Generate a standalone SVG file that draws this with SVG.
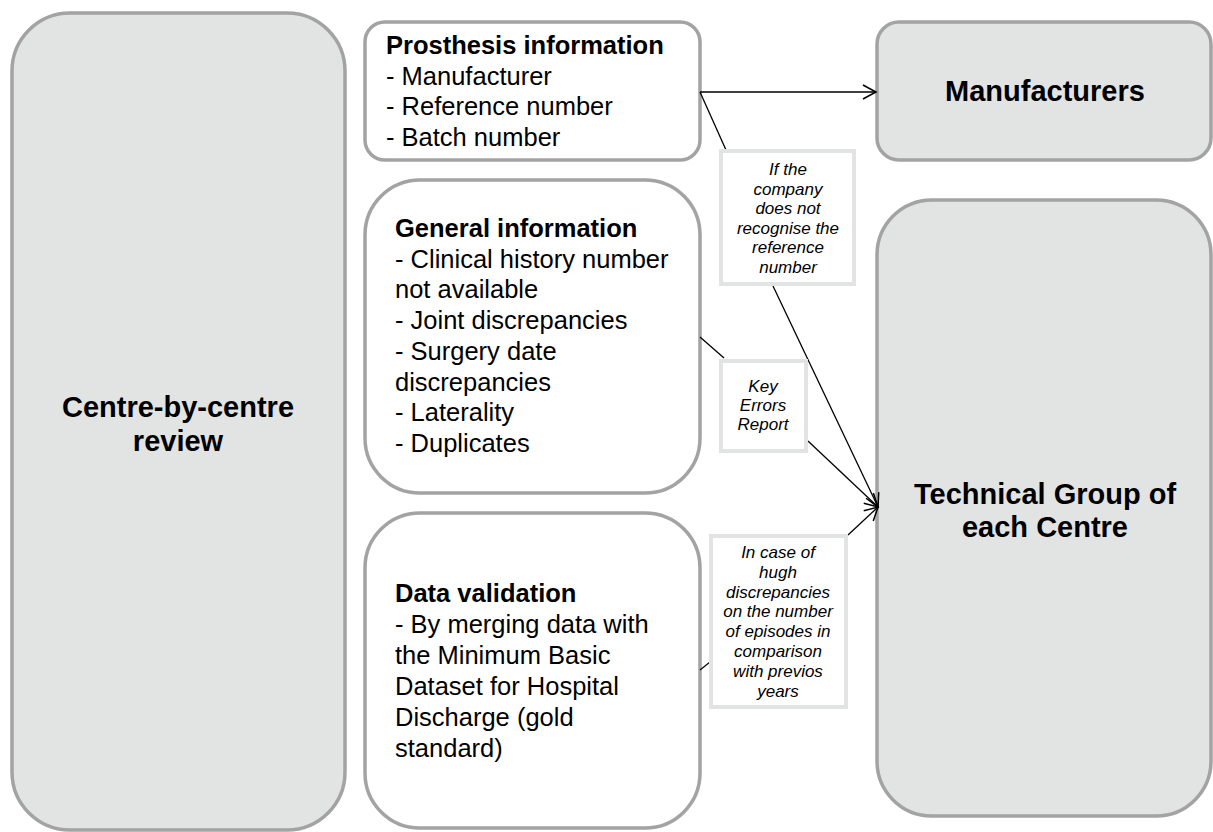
<svg xmlns="http://www.w3.org/2000/svg" width="1213" height="832" viewBox="0 0 1213 832">
<defs>
<style>
.gray{fill:#e2e3e3;stroke:#a3a3a3;stroke-width:3.5}
.white{fill:#ffffff;stroke:#a3a3a3;stroke-width:3.5}
.lab{fill:#ffffff;stroke:#e2e3e3;stroke-width:4}
.t{font-family:"Liberation Sans",Arial,sans-serif;font-size:25.5px;fill:#000}
.b{font-weight:bold}
.big{font-family:"Liberation Sans",Arial,sans-serif;font-size:29px;font-weight:bold;fill:#000;text-anchor:middle}
.it{font-family:"Liberation Sans",Arial,sans-serif;font-size:17px;font-style:italic;fill:#000;text-anchor:middle}
.c{fill:none;stroke:#000;stroke-width:1.3}
</style>
<marker id="arr" markerUnits="userSpaceOnUse" markerWidth="16" markerHeight="16" refX="14" refY="8" orient="auto" viewBox="0 0 16 16">
<path d="M1,1 L14,8 L1,15" fill="none" stroke="#000" stroke-width="1.5"/>
</marker>
</defs>

<g id="centre-review">
<rect class="gray" x="12" y="13" width="333" height="817" rx="58"/>
<text class="big" x="178" y="417">Centre-by-centre</text>
<text class="big" x="178" y="451">review</text>
</g>

<g id="prosthesis">
<rect class="white" x="365" y="22" width="335" height="138" rx="20"/>
<text class="t" x="386" y="54"><tspan class="b">Prosthesis information</tspan><tspan x="386" dy="30.5">- Manufacturer</tspan><tspan x="386" dy="30.5">- Reference number</tspan><tspan x="386" dy="30.5">- Batch number</tspan></text>
</g>

<g id="general">
<rect class="white" x="365" y="180" width="335" height="313" rx="55"/>
<text class="t" x="395" y="237"><tspan class="b">General information</tspan><tspan x="395" dy="30.7">- Clinical history number</tspan><tspan x="395" dy="30.7">not available</tspan><tspan x="395" dy="30.7">- Joint discrepancies</tspan><tspan x="395" dy="30.7">- Surgery date</tspan><tspan x="395" dy="30.7">discrepancies</tspan><tspan x="395" dy="30.7">- Laterality</tspan><tspan x="395" dy="30.7">- Duplicates</tspan></text>
</g>

<g id="validation">
<rect class="white" x="365" y="513" width="335" height="315" rx="55"/>
<text class="t" x="395" y="602"><tspan class="b">Data validation</tspan><tspan x="395" dy="31">- By merging data with</tspan><tspan x="395" dy="31">the Minimum Basic</tspan><tspan x="395" dy="31">Dataset for Hospital</tspan><tspan x="395" dy="31">Discharge (gold</tspan><tspan x="395" dy="31">standard)</tspan></text>
</g>

<g id="manufacturers">
<rect class="gray" x="877" y="22" width="334" height="138" rx="22"/>
<text class="big" x="1045" y="101">Manufacturers</text>
</g>

<g id="technical">
<rect class="gray" x="877" y="200" width="334" height="616" rx="55"/>
<text class="big" x="1045" y="504">Technical Group of</text>
<text class="big" x="1045" y="537">each Centre</text>
</g>

<g id="connectors">
<path class="c" d="M700,92 L876,92" marker-end="url(#arr)"/>
<path class="c" d="M700,92 L726,150"/>
<path class="c" d="M773,286 L878,507" marker-end="url(#arr)"/>
<path class="c" d="M700,337 L724,358"/>
<path class="c" d="M808,441 L878,507" marker-end="url(#arr)"/>
<path class="c" d="M700,670 L710,662"/>
<path class="c" d="M848,535 L878,507" marker-end="url(#arr)"/>
</g>

<g id="label-ref">
<rect class="lab" x="721" y="151" width="133" height="133"/>
<text class="it" x="788" y="175"><tspan x="788">If the</tspan><tspan x="788" dy="19.6">company</tspan><tspan x="788" dy="19.6">does not</tspan><tspan x="788" dy="19.6">recognise  the</tspan><tspan x="788" dy="19.6">reference</tspan><tspan x="788" dy="19.6">number</tspan></text>
</g>

<g id="label-key">
<rect class="lab" x="721" y="361" width="85" height="90"/>
<text class="it" x="763" y="392"><tspan x="763">Key</tspan><tspan x="763" dy="19">Errors</tspan><tspan x="763" dy="19">Report</tspan></text>
</g>

<g id="label-case">
<rect class="lab" x="711" y="536" width="135" height="171"/>
<text class="it" x="778" y="558"><tspan x="778">In case of</tspan><tspan x="778" dy="19.8">hugh</tspan><tspan x="778" dy="19.8">discrepancies</tspan><tspan x="778" dy="19.8">on the number</tspan><tspan x="778" dy="19.8">of episodes in</tspan><tspan x="778" dy="19.8">comparison</tspan><tspan x="778" dy="19.8">with previos</tspan><tspan x="778" dy="19.8">years</tspan></text>
</g>
</svg>
